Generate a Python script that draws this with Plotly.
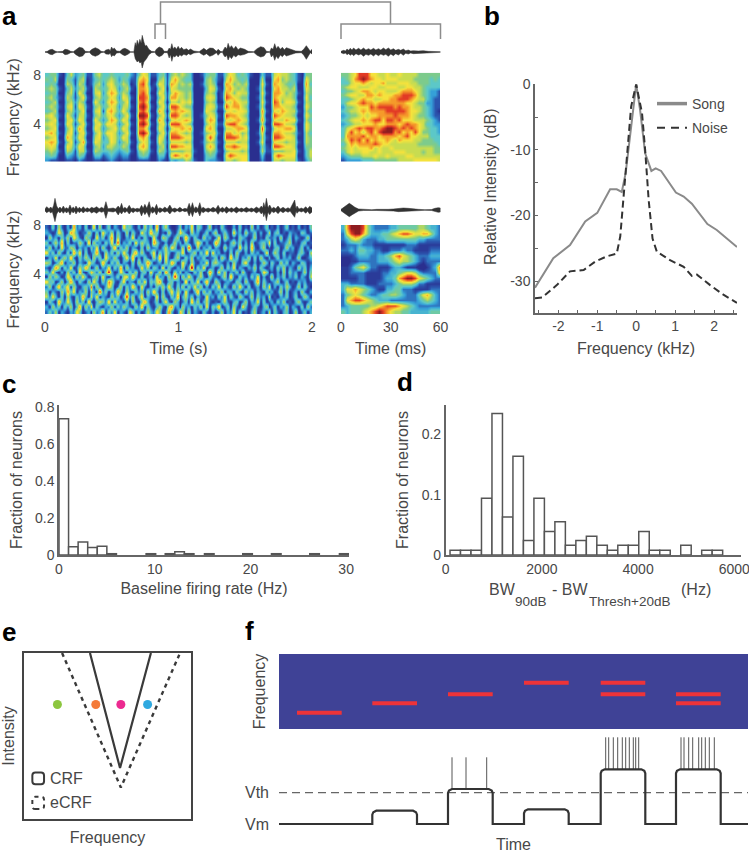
import plotly.graph_objects as go

W, H = 749, 853
FONT = "Liberation Sans"
TXT = "#484848"
AXC = "#666666"

# ---------- Panel a: spectrogram levels (0-9), top row = highest frequency ----------
song_long_rows = [
 "344 10 35 2 34 11 45 3 343 3 34 21 465 11 34 1 454543 001 344 11 465343 100 3 11 565543 10 4 4",
 "435 00 43 1 45 01 34 3 454 2 43 11 676 00 45 1 575433 000 453 10 575434 000 5 00 674543 10 6 4",
 "343 00 54 1 54 01 45 2 564 3 54 01 785 01 65 1 764545 001 454 00 764545 000 6 10 765434 00 7 3",
 "454 10 35 2 45 10 54 3 465 2 45 10 776 10 46 0 654444 000 365 10 675454 001 5 00 675545 00 6 4",
 "344 00 45 1 64 00 56 2 576 3 54 00 786 00 65 1 576545 000 454 01 764655 000 6 10 776454 10 5 4",
 "453 10 54 1 46 10 45 3 465 2 65 10 887 10 46 1 775545 000 565 01 876544 001 5 00 765554 00 6 3",
 "345 00 45 2 54 00 64 2 576 3 46 00 786 00 65 0 554656 000 454 00 657655 000 6 10 874665 10 5 4",
 "454 10 56 1 65 10 45 3 465 2 55 10 897 10 46 1 887544 000 565 11 867754 001 5 00 776554 00 6 4",
 "345 00 45 2 46 00 56 1 675 3 64 00 786 00 75 0 676765 000 654 00 565665 000 7 10 657655 10 5 3",
 "564 10 64 1 55 10 45 3 564 2 46 10 998 10 46 1 887545 001 465 10 877654 000 6 00 876554 00 6 4",
 "456 00 56 2 65 00 64 2 476 3 65 00 786 00 75 0 565676 000 576 00 656765 001 7 10 655766 10 5 3",
 "565 10 65 1 46 10 56 3 665 2 46 10 897 10 56 1 888654 000 465 11 788654 000 5 00 887554 00 6 4",
 "456 00 46 2 75 00 65 2 456 3 65 00 775 00 65 0 566767 000 675 00 556776 000 8 10 566776 00 6 4",
 "675 10 56 1 56 10 46 3 665 2 46 10 897 10 46 1 776545 001 456 10 775645 001 6 00 776554 10 5 3",
 "456 00 75 2 65 00 56 2 465 3 65 00 675 00 65 0 888766 000 585 00 888756 000 5 10 887665 00 5 4",
 "676 10 46 1 47 10 65 3 365 2 45 10 465 10 64 1 555545 001 454 10 555455 001 6 00 655455 10 5 4",
 "565 00 65 2 65 00 45 2 554 3 54 00 675 00 45 0 887766 000 575 00 778766 000 4 10 887665 00 4 4",
 "454 10 54 1 55 10 54 3 343 2 34 10 454 10 54 1 444455 100 454 10 455545 000 5 11 444556 10 3 5",
 "343 00 32 1 43 00 33 1 232 1 22 00 343 00 33 0 687676 000 343 00 687666 000 3 00 687666 00 3 5",
 "211 00 11 0 21 00 11 0 121 0 11 00 111 00 21 0 323354 100 322 10 554566 000 2 00 554555 10 2 4",
]
song_short_rows = [
 "4456888665565565555444444",
 "3457898766566655554444343",
 "3356676566755566655444333",
 "4566555665566655665543333",
 "3445677656655567776543221",
 "4566557767666778887543221",
 "3345676655667788876553211",
 "3566787767777777665442211",
 "2445666878888787765543211",
 "3455676777788888766543210",
 "2344565667777877765443211",
 "3456676788688786665554321",
 "2345566676677767877653322",
 "3567878877899878787654332",
 "3686757868999786768644332",
 "3777786776777767866555333",
 "4687868676676576665544433",
 "3576777787665555555444443",
 "4565666756556555555555544",
 "3565566556555666555545544",
 "2344455565565555665555555",
 "1222233344444455556666665",
]
noise_long_rows = [
 "103041020612030150401302105231020413060241001302150320140103100203010402013010201301020103",
 "210153016420114203052140310403105216230104102531041201302401310512041130201402301021103201",
 "041203140531042105130260410215020310510431024016203104120150420103210140103112040130210140",
 "302416030114206041203150702130514220631020141203102530201630102413020401231503011240102301",
 "140205114302120315041026031402103041120241530140710402130210412105130610240102301412013020",
 "513041030625030126104130415203614102503142013250124031605120103041020312015014203011023104",
 "021502416103142041305214102516020310416051024103140213011304206130214030410201302120140012",
 "430136021402105320162031402103041263012041630152041021503421020410351020142031041302103201",
 "102640315014263014021503160412015140320503102140280315012014031502102140310120314021041302",
 "315102041306102531403720152031402305114062041302103140162051402130410120153010204031201403",
 "041420153041520124051021304516203012051204173041520241031102406103120315020140213021302104",
 "523014026203104152031641025021041503246102302106031502610420121032041026031012401301021201",
 "140261350410231604102530140316205102031415203140315140203150310415203012041502031420140310",
 "302104162502140320713021620410313041620302514205102604130214022031041302103120140301204102",
 "415203041031620415021041302714025021050410316024130210512031503104201403120401021301301420",
 "031062152041306102431605120304103620130251042013061402410102410230140215030120314010241013",
 "204130314026041503102140314210416031024104612041203140503260130410520131024013021402103041",
 "131402102153012041260315021053020142153016201530402103102014021503010240120403102301401302",
]
noise_short_rows = [
 "3799985322223344444554332",
 "2689975333445678876677532",
 "2356532223344444444332222",
 "1222322211111111222111111",
 "2232443322112223221111222",
 "1112333223345786543222333",
 "0011222223334565543212222",
 "1124564221112332111001237",
 "1122221111223345665322226",
 "1111221111233478998654322",
 "3322221112222345554221111",
 "3667654321133442221111222",
 "2456543223445543222467532",
 "2678876543332222222345432",
 "2344444556788876543222222",
 "4344456789876554433333444",
]
jet_like = ["#2a2f8f", "#2b55ae", "#35a0d8", "#5cc8c8", "#7dcb8c",
            "#c8dc50", "#f5e23c", "#f59a2a", "#e23a25", "#8e1c20"]

# ---------- Panel a: waveform envelopes (sample position, upper, lower) ----------
song_long_env = [
 (135,1,1),(142,2,2),(150,7,7),(157,8,8),(165,3,3),(172,1,1),(188,2,2),(195,8,8),(203,7,7),(212,2,2),(220,1,1),
 (228,8,8),(238,14,14),(248,12,12),(256,2,2),(268,1,1),(276,8,9),(286,13,13),(297,8,8),(303,2,2),(312,1,1),
 (318,6,6),(327,8,7),(331,4,4),(335,15,14),(339,8,9),(343,12,12),(350,3,3),(360,2,2),(368,9,8),(375,11,11),(384,7,7),(392,1,1),(402,1,1),
 (406,28,20),(409,18,22),(412,35,30),(416,22,26),(420,38,33),(424,26,30),(427,50,48),(432,30,30),(436,18,24),(440,20,20),(447,8,8),(455,2,2),(465,1,1),
 (470,9,9),(478,15,14),(487,11,10),(493,2,2),(503,2,2),(508,12,18),(512,8,8),(516,25,28),(520,10,12),(525,15,15),(530,8,9),(535,17,15),(540,8,8),(545,14,12),(552,7,7),
 (560,10,10),(566,5,5),(572,9,8),(582,3,3),(598,1,1),(605,6,6),(612,11,10),(620,5,5),(630,12,13),(640,11,9),(650,2,2),(655,8,10),
 (662,2,2),(668,1,1),(672,8,10),(676,15,15),(681,9,10),(685,26,24),(690,12,13),(695,19,20),(702,9,10),(708,17,15),(715,7,8),(722,12,10),(735,8,7),(745,2,2),(762,1,1),
 (772,10,10),(783,16,15),(793,13,12),(800,2,2),(810,1,1),(815,12,15),(820,8,8),(825,25,25),(830,10,12),(835,17,20),(842,8,9),(848,14,14),(854,7,7),(860,13,12),
 (875,8,8),(888,3,3),(905,2,2),(912,8,9),(920,19,22),(928,7,8),(932,2,2),(937,8,6),
]
song_short_env = [
 (1022,2,2),(1030,5,5),(1036,3,3),(1040,9,8),(1045,5,5),(1050,11,10),(1055,6,6),(1060,12,11),(1067,6,5),(1075,11,9),(1082,6,6),(1090,12,13),(1097,6,7),(1105,10,10),(1112,6,6),(1120,11,12),
 (1127,6,6),(1135,10,11),(1142,6,6),(1150,12,10),(1157,7,7),(1165,12,13),(1172,6,6),(1180,10,11),(1187,5,5),(1195,8,9),(1202,5,4),(1210,9,10),(1217,4,4),(1225,6,6),(1232,3,3),(1240,4,5),(1255,3,3),
 (1270,4,3),(1285,2,3),(1300,2,2),(1322,1,1),
]
noise_long_env = [
 (135,3,3),(140,10,8),(147,4,4),(152,9,9),(157,4,5),(161,14,20),(165,35,35),(170,12,12),(175,4,4),(180,9,9),(185,3,3),(190,12,10),(195,4,4),(200,7,9),(205,3,3),(210,15,15),
 (215,4,4),(220,9,9),(224,3,3),(228,12,12),(234,3,3),(238,8,8),(244,3,3),(250,10,9),(256,3,3),(262,7,6),(268,3,3),(275,8,9),(282,5,5),(290,10,10),(298,4,4),(305,8,7),(312,4,4),(318,25,25),(324,4,4),(332,5,5),(340,6,6),
 (347,3,3),(355,12,15),(360,5,5),(365,20,12),(370,4,4),(375,8,8),(381,3,3),(388,14,12),(394,4,4),(400,6,8),(406,3,3),(412,5,6),(419,3,3),(425,14,18),(430,5,5),(435,17,14),(441,5,5),(448,25,22),(453,4,4),(458,10,10),(464,4,4),
 (470,17,15),(475,3,3),(480,7,8),(488,3,3),(495,9,7),(502,3,3),(510,15,12),(517,3,3),(525,6,7),(532,2,2),(540,8,6),(548,2,2),(555,5,5),(562,3,3),(568,20,18),(573,5,5),(578,22,20),(583,4,4),(588,10,9),(594,4,4),
 (600,22,18),(605,4,4),(610,8,8),(618,3,3),(625,6,7),(632,3,3),(640,8,6),(648,3,3),(655,14,13),(661,3,3),(668,8,7),(674,3,3),(680,10,10),(688,3,3),(695,7,7),(702,3,3),(710,9,9),(718,3,3),(725,6,6),(732,3,3),(740,8,7),
 (748,3,3),(755,6,6),(762,3,3),(770,9,9),(778,4,4),(785,12,12),(789,6,6),(792,22,20),(796,8,9),(800,35,32),(805,7,7),(810,15,14),(816,4,4),(822,8,8),(828,4,4),(835,12,11),(842,3,3),(850,8,8),(858,3,3),(865,7,7),(871,3,3),
 (878,15,14),(885,30,22),(889,4,4),(892,12,10),(898,3,3),(905,6,6),(911,3,3),(918,10,10),(924,4,4),(930,11,12),(937,6,6),
]
noise_short_env = [
 (1022,2,2),(1030,8,8),(1038,15,15),(1047,20,20),(1056,14,14),(1064,8,8),(1075,3,3),(1090,1.5,1.5),(1105,1,1),
 (1115,1,1.5),(1130,2,1.5),(1150,1.5,2),(1165,2,2),(1180,3,3),(1195,5,5),(1210,6,6),(1225,5,5),(1240,3,3),(1255,2,2),
 (1275,1,1),(1295,1.5,1.5),(1305,5,5),(1315,7,7),(1322,6,6),
]

# ---------- Panel b ----------
song_f = [-2.6,-2.13,-1.7,-1.31,-1.0,-0.67,-0.5,-0.37,-0.27,-0.15,0,0.1,0.23,0.39,0.5,0.64,1.02,1.22,1.43,1.83,2.07,2.59]
song_db = [-31,-26.5,-24.5,-20.9,-19.6,-16,-16,-16.4,-13.5,-7.5,0,-3.9,-10.5,-13.2,-12.8,-13.2,-16.5,-17.1,-18.2,-21.3,-22.2,-24.8]
noise_f = [-2.6,-2.42,-2.04,-1.7,-1.35,-1.05,-0.75,-0.5,-0.41,-0.33,-0.24,-0.13,0,0.15,0.23,0.32,0.42,0.53,0.87,1.22,1.43,1.56,1.9,2.25,2.59]
noise_db = [-32.6,-32.5,-30.6,-28.5,-28.3,-27,-26.2,-25.8,-23.2,-17.6,-11,-3.4,0,-4.4,-10,-17.6,-23.5,-25.5,-26.8,-27.8,-29.2,-29,-30.6,-32.1,-33.3]

# ---------- Panel c ----------
rate_hz = [0.5,1.5,2.5,3.5,4.5,5.5,9.6,11.6,12.6,13.6,15.7,19.7,22.7,26.7,29.8]
rate_frac = [0.737,0.045,0.07,0.04,0.047,0.007,0.007,0.007,0.017,0.007,0.007,0.007,0.007,0.007,0.007]

# ---------- Panel d ----------
bw_hz = [199,417,635,853,1071,1289,1507,1725,1943,2161,2379,2597,2815,3033,3251,3469,3687,3905,4123,4341,4559,4995,5431,5649]
bw_frac = [0.008,0.008,0.008,0.094,0.235,0.063,0.164,0.024,0.094,0.039,0.055,0.016,0.024,0.031,0.016,0.008,0.016,0.016,0.039,0.008,0.008,0.016,0.008,0.008]

# ---------- Panel e ----------
crf_f, crf_i = [39.5,57.5,76], [100,30.7,100]
ecrf_f, ecrf_i = [22.8,58,93], [100,19,99]
tone_f = [20,43,58,74]
tone_i = [69,69,69,69]
tone_colors = ["#8cc63f","#f47b3a","#ec2a90","#2fa9e0"]

# ---------- Panel f ----------
tone_on = [18,93.3,169,245,321.7,321.7,397,397]
tone_off = [62.7,138,213.7,289.7,366.3,366.3,441.7,441.7]
tone_lvl = [16.3,25.7,34.7,46.3,46.3,34.7,34.7,25.7]
dot_t = [40,116,189.7,267,337.7,350,412.7,426]
dot_c = ["#8cc63f","#f47b3a","#ec2a90","#2fa9e0","#ec2a90","#2fa9e0","#ec2a90","#f47b3a"]
bump_on = [93.3,169,245,321.7,397]
bump_off = [138,213.7,289.7,366.3,441.7]
bump_h = [13.3,35,14.7,54.7,54.7]
vm_end = 469
vth = 31.3
spike_t = [173,187,207.7,326.7,329.7,334.3,338.7,343.3,346.7,350.3,354.3,356.7,359.7,
           402,405,409.7,413.7,419.7,422.7,426.3,430.3,435.3]
spike_base = [35]*3 + [54.7]*19
spike_top = [66.7]*3 + [86.7]*19

# ---------- helpers ----------
def fx(px): return px / W
def fy(py): return 1 - py / H

layout = dict(width=W, height=H, margin=dict(l=0, r=0, t=0, b=0, autoexpand=False),
              paper_bgcolor="white", plot_bgcolor="white", font=dict(family=FONT, color=TXT, size=14),
              hovermode=False)
BLANK = dict(showgrid=False, zeroline=False, showticklabels=False, ticks="", showline=False)

def axes(k, box, xcfg, ycfg):
    x0, y0, x1, y1 = box
    s = "" if k == 1 else str(k)
    layout["xaxis" + s] = {**BLANK, "domain": [fx(x0), fx(x1)], "anchor": "y" + s, **xcfg}
    layout["yaxis" + s] = {**BLANK, "domain": [fy(y1), fy(y0)], "anchor": "x" + s, **ycfg}
    return ("x" + s, "y" + s)

def title(text, standoff):
    return dict(text=text, font=dict(size=16, color=TXT, family=FONT), standoff=standoff)

fig = go.Figure()

def wave(k, env, box, half):
    xs = [e[0] for e in env]
    ups = [e[1] for e in env]
    dns = [-e[2] for e in env]
    xa, ya = axes(k, box, dict(range=[xs[0], xs[-1]]), dict(range=[-half, half]))
    fig.add_trace(go.Scatter(x=xs + xs[::-1], y=ups + dns[::-1], mode="lines", fill="toself",
                             fillcolor="#333333", line=dict(color="#333333", width=0.5),
                             showlegend=False, xaxis=xa, yaxis=ya, hoverinfo="skip"))

def spec(k, rows, box, xr, yr, xcfg, ycfg, zmin=0, zmax=9):
    clean = [r.replace(" ", "") for r in rows]
    n = max(len(r) for r in clean)
    z = [[int(c) for c in r.ljust(n, r[-1])] for r in clean][::-1]
    xa, ya = axes(k, box, dict(range=xr, **xcfg), dict(range=yr, **ycfg))
    fig.add_trace(go.Heatmap(z=z, x0=xr[0] + (xr[1]-xr[0])/n/2, dx=(xr[1]-xr[0])/n,
                             y0=yr[0] + (yr[1]-yr[0])/len(z)/2, dy=(yr[1]-yr[0])/len(z),
                             zmin=zmin, zmax=zmax, zsmooth="best", showscale=False, hoverinfo="skip",
                             colorscale=[[i/9, c] for i, c in enumerate(jet_like)],
                             xaxis=xa, yaxis=ya))

TF = dict(size=14, color=TXT, family=FONT)
def yfreq(vals=(4, 8)):
    return dict(showticklabels=True, tickvals=list(vals), ticktext=[str(v) for v in vals], tickfont=TF,
                ticklen=0, ticklabelstandoff=3, title=title("Frequency (kHz)", 9))
def xtime(vals, label):
    return dict(showticklabels=True, tickvals=vals, ticktext=[str(v) for v in vals], tickfont=TF, ticklen=0,
                ticklabelstandoff=3, title=title(label, 8))

# ---------- panel a ----------
wave(1, song_long_env, (45, 30, 312, 74), 66)
wave(2, song_short_env, (341, 30, 440.5, 74), 66)
spec(3, song_long_rows, (45, 72.7, 312, 161.7), [0, 2], [0.92, 8.19], {}, yfreq())
spec(4, song_short_rows, (341, 72.7, 440.5, 161.7), [0, 60], [0.92, 8.19], {}, {})
wave(5, noise_long_env, (45, 192, 312, 228), 54)
wave(6, noise_short_env, (341, 192, 440.5, 228), 54)
spec(7, noise_long_rows, (45, 225, 312, 314), [0, 2], [0.73, 8], xtime([0, 1, 2], "Time (s)"), yfreq(), zmax=7)
spec(8, noise_short_rows, (341, 225, 440.5, 314), [0, 60], [0.73, 8], xtime([0, 30, 60], "Time (ms)"), {}, zmin=0.7)

# ---------- panel b ----------
xa, ya = axes(9, (535, 84.3, 737, 312.7),
    dict(range=[-2.6, 2.59], showline=True, linecolor=AXC, linewidth=1.5, ticks="inside", ticklen=3, tickcolor=AXC,
         showticklabels=True, tickfont=TF,
         tickvals=[-2.5,-2,-1.5,-1,-0.5,0,0.5,1,1.5,2,2.5],
         ticktext=["","-2","","-1","","0","","1","","2",""], title=title("Frequency (kHz)", 10)),
    dict(range=[-34.8, 0], showline=True, linecolor=AXC, linewidth=1.5, ticks="inside", ticklen=3, tickcolor=AXC,
         showticklabels=True, tickfont=TF,
         tickvals=[-30,-25,-20,-15,-10,-5,0], ticktext=["-30","","-20","","-10","","0"]))
fig.add_trace(go.Scatter(x=song_f, y=song_db, mode="lines", line=dict(color="#8a8a8a", width=2),
                         showlegend=False, xaxis=xa, yaxis=ya, cliponaxis=False))
fig.add_trace(go.Scatter(x=noise_f, y=noise_db, mode="lines", line=dict(color="#333333", width=2, dash="7px,4px"),
                         showlegend=False, xaxis=xa, yaxis=ya, cliponaxis=False))
fig.add_trace(go.Scatter(x=[None], y=[None], mode="lines", name="Song", legendgroup="s",
                         line=dict(color="#8a8a8a", width=3.5), xaxis=xa, yaxis=ya))
fig.add_trace(go.Scatter(x=[None], y=[None], mode="lines", name="Noise", legendgroup="n",
                         line=dict(color="#333333", width=2, dash="8px,6px"), xaxis=xa, yaxis=ya))
layout["legend"] = dict(x=fx(652), y=fy(88), xanchor="left", yanchor="top", bgcolor="rgba(0,0,0,0)",
                        font=dict(size=14, color=TXT, family=FONT), tracegroupgap=3, traceorder="grouped")

# ---------- panel c ----------
BAR = dict(color="white", line=dict(color="#555555", width=1.5))
xa, ya = axes(10, (59, 405, 349, 555),
    dict(range=[0, 30.3], showline=True, linecolor=AXC, linewidth=1.5, showticklabels=True, tickfont=TF,
         tickvals=[0,10,20,30], title=title("Baseline firing rate (Hz)", 7)),
    dict(range=[0, 0.811], showline=True, linecolor=AXC, linewidth=1.5, showticklabels=True, tickfont=TF,
         tickvals=[0,0.2,0.4,0.6,0.8], ticktext=["0","0.2","0.4","0.6","0.8"], title=title("Fraction of neurons", 8)))
fig.add_trace(go.Bar(x=rate_hz, y=rate_frac, width=1, marker=BAR, showlegend=False, xaxis=xa, yaxis=ya))

# ---------- panel d ----------
xa, ya = axes(11, (445.7, 405, 740.7, 555),
    dict(range=[0, 6133], showline=True, linecolor=AXC, linewidth=1.5, showticklabels=True, tickfont=TF,
         tickvals=[0,2000,4000,6000], ticklabeloverflow="allow"),
    dict(range=[0, 0.249], showline=True, linecolor=AXC, linewidth=1.5, showticklabels=True, tickfont=TF,
         tickvals=[0,0.1,0.2], ticktext=["0","0.1","0.2"], title=title("Fraction of neurons", 9)))
fig.add_trace(go.Bar(x=bw_hz, y=bw_frac, width=218, marker=BAR, showlegend=False, xaxis=xa, yaxis=ya))

# ---------- panel e ----------
xa, ya = axes(12, (24, 653, 191, 819),
    dict(range=[0,100], showline=True, mirror=True, linecolor="#444444", linewidth=2, title=title("Frequency", 12)),
    dict(range=[0,100], showline=True, mirror=True, linecolor="#444444", linewidth=2, title=title("Intensity", 8)))
fig.add_trace(go.Scatter(x=crf_f, y=crf_i, mode="lines", line=dict(color="#3a3a3a", width=2.2), showlegend=False, xaxis=xa, yaxis=ya))
fig.add_trace(go.Scatter(x=ecrf_f, y=ecrf_i, mode="lines", line=dict(color="#3a3a3a", width=2.4, dash="4px,4px"), showlegend=False, xaxis=xa, yaxis=ya))
fig.add_trace(go.Scatter(x=tone_f, y=tone_i, mode="markers", marker=dict(size=9, color=tone_colors), showlegend=False, xaxis=xa, yaxis=ya))

def round_rect(x0, x1, y0, y1, r):
    return (f"M{x0+r},{y0} L{x1-r},{y0} Q{x1},{y0} {x1},{y0+r} L{x1},{y1-r} Q{x1},{y1} {x1-r},{y1} "
            f"L{x0+r},{y1} Q{x0},{y1} {x0},{y1-r} L{x0},{y0+r} Q{x0},{y0} {x0+r},{y0} Z")

shapes = [
    dict(type="path", xref=xa, yref=ya, path=round_rect(5, 12, 21, 28, 1.8), line=dict(color="#3a3a3a", width=2)),
    dict(type="path", xref=xa, yref=ya, path=round_rect(5, 12, 6, 13.4, 1.8), line=dict(color="#3a3a3a", width=2, dash="4px,4px")),
]
annotations = [
    dict(x=14.4, y=24.7, xref=xa, yref=ya, text="CRF", showarrow=False, xanchor="left", yanchor="middle", font=dict(size=16, color=TXT, family=FONT)),
    dict(x=14.4, y=10.2, xref=xa, yref=ya, text="eCRF", showarrow=False, xanchor="left", yanchor="middle", font=dict(size=16, color=TXT, family=FONT)),
]

# ---------- panel f ----------
xa, ya = axes(13, (279, 654, 748, 729), dict(range=[0, vm_end]), dict(range=[0, 75], title=title("Frequency", 8)))
shapes.append(dict(type="rect", xref=xa, yref=ya, x0=0, x1=vm_end, y0=0, y1=75, fillcolor="#3f4296", line=dict(width=0), layer="below"))
tx, ty = [], []
for a, b, l in zip(tone_on, tone_off, tone_lvl):
    tx += [a, b, None]; ty += [l, l, None]
fig.add_trace(go.Scatter(x=tx, y=ty, mode="lines", line=dict(color="#ee3338", width=4), showlegend=False, xaxis=xa, yaxis=ya))
fig.add_trace(go.Scatter(x=dot_t, y=[85.3]*len(dot_t), mode="markers", marker=dict(size=11, color=dot_c), cliponaxis=False,
                         showlegend=False, xaxis=xa, yaxis=ya))

xa, ya = axes(14, (279, 733, 748, 835),
    dict(range=[0, vm_end], title=title("Time", 6)),
    dict(range=[-11, 91], showticklabels=True, tickvals=[0, vth], ticktext=["Vm", "Vth"], ticklen=0,
         ticklabelstandoff=9, tickfont=dict(size=16, color=TXT, family=FONT)))
vx, vy = [0], [0]
for a, b, h in zip(bump_on, bump_off, bump_h):
    vx += [a, a, a + 1, a + 4, b - 4, b - 1, b, b]
    vy += [0, h - 4, h - 1.5, h, h, h - 1.5, h - 4, 0]
vx.append(vm_end); vy.append(0)
sx, sy = [], []
for t, b, u in zip(spike_t, spike_base, spike_top):
    sx += [t, t, None]; sy += [b, u, None]
fig.add_trace(go.Scatter(x=[0, vm_end], y=[vth, vth], mode="lines", line=dict(color="#666666", width=1.2, dash="8px,5px"), showlegend=False, xaxis=xa, yaxis=ya))
fig.add_trace(go.Scatter(x=sx, y=sy, mode="lines", line=dict(color="#555555", width=1), showlegend=False, xaxis=xa, yaxis=ya))
fig.add_trace(go.Scatter(x=vx, y=vy, mode="lines", line=dict(color="#333333", width=2.2), showlegend=False, xaxis=xa, yaxis=ya))

# ---------- brackets over panel a ----------
def bracket(x0, x1, ytop, ybot, mid=None):
    path = f"M{fx(x0)},{fy(ybot)} L{fx(x0)},{fy(ytop)} L{fx(x1)},{fy(ytop)} L{fx(x1)},{fy(ybot)}"
    shapes.append(dict(type="path", xref="paper", yref="paper", path=path, line=dict(color="#8c8c8c", width=1.5)))
bracket(160.5, 390.5, 2, 24)
bracket(155, 165.5, 24, 39)
bracket(341, 440.5, 24, 39)

# ---------- free text ----------
def px_text(x, y, text, size=16, angle=0, bold=False, color=TXT, anchor="center"):
    annotations.append(dict(x=fx(x), y=fy(y), xref="paper", yref="paper", text=f"<b>{text}</b>" if bold else text,
                            showarrow=False, xanchor=anchor, yanchor="middle", textangle=angle,
                            font=dict(size=size, color=color, family=FONT)))
for ch, x, y in [("a", 9, 16), ("b", 492, 16), ("c", 9, 384), ("d", 405, 382), ("e", 9, 632), ("f", 249, 631)]:
    px_text(x, y, ch, size=26, bold=True, color="black")
px_text(490, 186, "Relative Intensity (dB)", angle=-90)
px_text(502, 589.5, "BW")
px_text(569.5, 589.5, "- BW")
px_text(696, 589.5, "(Hz)")
px_text(531, 601, "90dB", size=13.5)
px_text(629, 601, "Thresh+20dB", size=13.5)

layout["shapes"] = shapes
layout["annotations"] = annotations
fig.update_layout(**layout)
fig.write_html("out.html", config=dict(displayModeBar=False),
               post_script="document.body.style.margin='0';document.documentElement.style.overflow='hidden';")
